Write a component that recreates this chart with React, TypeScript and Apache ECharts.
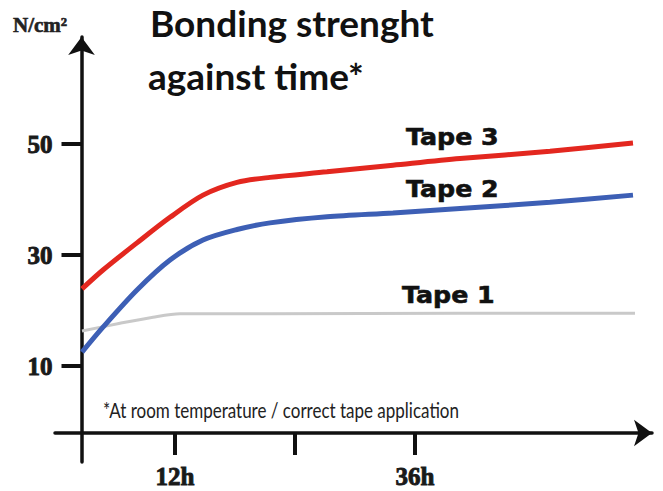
import React, { useEffect, useRef } from "react";
import * as echarts from "echarts";

// Time (hours) and bonding strength (N/cm²)
const timeRB: number[] = [2.7, 4.8, 8.2, 11.5, 14.8, 18.2, 21.5, 27.2, 33.8, 40.5, 49.5, 57.8];
const tape3: number[] = [23.9, 27.3, 32.2, 36.8, 40.8, 43.1, 44.0, 45.0, 46.2, 47.4, 48.7, 50.2];
const tape2: number[] = [12.5, 17.0, 23.7, 29.1, 32.7, 34.6, 35.8, 36.9, 37.6, 38.4, 39.5, 40.8];
const time1: number[] = [2.7, 6.5, 9.8, 12.5, 21.5, 40.5, 58.0];
const tape1: number[] = [16.3, 17.7, 18.8, 19.4, 19.4, 19.5, 19.5];

const yTicks: number[] = [10, 30, 50];
const xTicks: number[] = [12, 24, 36];
const xLabels: number[] = [12, 36];

const seriesNames = ["Tape 1", "Tape 2", "Tape 3"];
const titleLines = ["Bonding strenght", "against time*"];
const footnote = "*At room temperature / correct tape application";
const unitLabel = "N/cm²";

const pairs = (xs: number[], ys: number[]) => xs.map((x, i) => [x, ys[i]]);

export default function App() {
  const ref = useRef<HTMLDivElement>(null);
  useEffect(() => {
    if (!ref.current) return;
    const chart = echarts.init(ref.current, null, { renderer: "svg" });
    const axisColor = "#111";
    const serifLabel = {
      fontFamily: "Liberation Serif",
      fontWeight: "bold" as const,
      fontSize: 25,
      color: "#1a1a1a",
      textBorderColor: "#1a1a1a",
      textBorderWidth: 0.9,
    };
    const tapeFont = {
      fontFamily: "DejaVu Sans",
      fontWeight: "bold" as const,
      fontSize: 23,
      fill: "#111",
      stroke: "#111",
      lineWidth: 0.6,
      verticalAlign: "middle" as const,
    };
    chart.setOption({
      animation: false,
      backgroundColor: "#ffffff",
      grid: { left: 55, right: 11, top: 37, bottom: 29, outerBoundsMode: "none" },
      xAxis: {
        type: "value",
        min: 0,
        max: 59.7,
        offset: -29,
        axisLine: {
          show: true,
          onZero: false,
          symbol: ["none", "arrow"],
          symbolSize: [20, 18],
          lineStyle: { color: axisColor, width: 3.5 },
        },
        axisTick: { show: true, customValues: xTicks, length: 22, lineStyle: { color: axisColor, width: 4 } },
        axisLabel: {
          customValues: xLabels,
          formatter: "{value}h",
          margin: 31,
          ...serifLabel,
        },
        splitLine: { show: false },
      },
      yAxis: {
        type: "value",
        min: -7.3,
        max: 69.3,
        offset: -26.5,
        axisLine: {
          show: true,
          onZero: false,
          symbol: ["none", "arrow"],
          symbolSize: [20, 18],
          lineStyle: { color: axisColor, width: 3.5 },
        },
        axisTick: { show: true, customValues: yTicks, length: 20, lineStyle: { color: axisColor, width: 4 } },
        axisLabel: {
          customValues: yTicks,
          margin: 29,
          ...serifLabel,
        },
        splitLine: { show: false },
      },
      series: [
        {
          name: seriesNames[0],
          type: "line",
          data: pairs(time1, tape1),
          smooth: 0.3,
          showSymbol: false,
          lineStyle: { color: "#c9c9c9", width: 3 },
          z: 1,
        },
        {
          name: seriesNames[1],
          type: "line",
          data: pairs(timeRB, tape2),
          smooth: 0.3,
          showSymbol: false,
          lineStyle: { color: "#3d5fb5", width: 5 },
          z: 2,
        },
        {
          name: seriesNames[2],
          type: "line",
          data: pairs(timeRB, tape3),
          smooth: 0.3,
          showSymbol: false,
          lineStyle: { color: "#e3271f", width: 5 },
          z: 3,
        },
      ],
      graphic: [
        {
          type: "text",
          x: 13,
          y: 24.5,
          style: {
            text: unitLabel,
            fontFamily: "Liberation Serif",
            fontWeight: "bold",
            fontSize: 21,
            fill: "#222",
            stroke: "#222",
            lineWidth: 0.6,
            verticalAlign: "middle",
          },
        },
        {
          type: "text",
          x: 150,
          y: 22.5,
          style: {
            text: titleLines[0],
            fontFamily: "Lato",
            fontWeight: "bold",
            fontSize: 37,
            fill: "#111",
            verticalAlign: "middle",
          },
        },
        {
          type: "text",
          x: 148,
          y: 75,
          style: {
            text: titleLines[1],
            fontFamily: "Lato",
            fontWeight: "bold",
            fontSize: 37,
            fill: "#111",
            verticalAlign: "middle",
          },
        },
        {
          type: "text",
          x: 103,
          y: 410,
          scaleX: 0.81,
          style: {
            text: footnote,
            fontFamily: "Lato",
            fontSize: 21,
            fill: "#222",
            verticalAlign: "middle",
          },
        },
        { type: "text", x: 406, y: 137.5, scaleX: 1.1, style: { text: seriesNames[2], ...tapeFont } },
        { type: "text", x: 406, y: 189.5, scaleX: 1.1, style: { text: seriesNames[1], ...tapeFont } },
        { type: "text", x: 402, y: 295.5, scaleX: 1.1, style: { text: seriesNames[0], ...tapeFont } },
      ],
    });
    return () => chart.dispose();
  }, []);
  return (
    <div
      ref={ref}
      style={{ position: "fixed", left: 0, top: 0, width: 663, height: 491, background: "#fff" }}
    />
  );
}
